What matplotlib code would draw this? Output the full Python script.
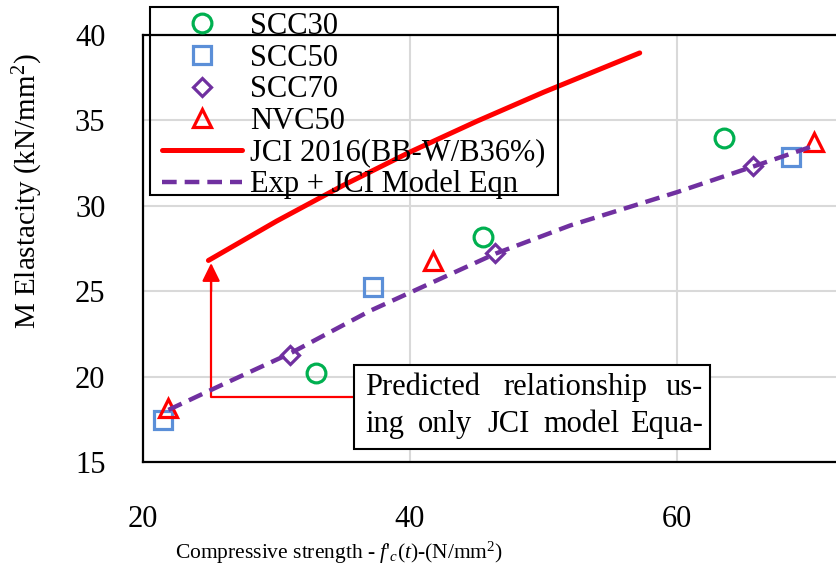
import matplotlib
matplotlib.use('Agg')
import matplotlib.pyplot as plt
from matplotlib.patches import Rectangle

# 字体：Times 风格
plt.rcParams['font.family'] = ['Liberation Serif', 'DejaVu Serif']
plt.rcParams['mathtext.fontset'] = 'custom'
plt.rcParams['mathtext.rm'] = 'Liberation Serif'
plt.rcParams['mathtext.it'] = 'Liberation Serif:italic'

# 试验数据 (f'c, E)
scc30_x = [32.97, 45.47, 63.52]
scc30_y = [20.21, 28.17, 33.97]
scc50_x = [21.5, 37.23, 68.54]
scc50_y = [17.46, 25.25, 32.86]
scc70_x = [31.0, 46.37, 65.69]
scc70_y = [21.27, 27.24, 32.33]
nvc50_x = [21.87, 41.72, 70.26]
nvc50_y = [18.16, 26.77, 33.74]

# JCI 2016 预测曲线
jci_x = [24.9, 30, 35, 40, 45, 50, 57.2]
jci_y = [26.8, 29.1, 31.2, 33.15, 34.95, 36.65, 38.95]

# 试验 + JCI 模型拟合曲线
fit_x = [21.9, 26, 31.0, 37.0, 46.4, 52, 60, 65.7, 70.2]
fit_y = [18.05, 19.55, 21.35, 23.85, 27.2, 28.85, 30.8, 32.3, 33.5]

x_ticks = [20, 40, 60]
y_ticks = [15, 20, 25, 30, 35, 40]

W, H = 836, 577


def px(x, y):
    # 像素坐标 -> figure 坐标
    return x / W, 1 - y / H


fig = plt.figure(figsize=(W / 100, H / 100), dpi=100)
ax = fig.add_axes([143 / W, 1 - 462 / H, 693 / W, 427 / H])

mk = dict(linestyle='none', markerfacecolor='none', markeredgewidth=2.3)
ax.plot(scc30_x, scc30_y, marker='o', markersize=13.5, markeredgecolor='#00B050', label='SCC30', **mk)
ax.plot(scc50_x, scc50_y, marker='s', markersize=13, markeredgecolor='#5B8FD8', label='SCC50', **mk)
ax.plot(scc70_x, scc70_y, marker='D', markersize=9.5, markeredgecolor='#7030A0', label='SCC70', **mk)
ax.plot(nvc50_x, nvc50_y, marker='^', markersize=13.5, markeredgecolor='#FF0000', label='NVC50', **mk)
ax.plot(jci_x, jci_y, color='#FF0000', lw=3.6, solid_capstyle='round', label='JCI 2016(BB-W/B36%)', zorder=4)
ax.plot(fit_x, fit_y, color='#7030A0', lw=3.2, dashes=(3.3, 1.8), label='Exp + JCI Model Eqn', zorder=4)

ax.set_xlim(20, 71.9)
ax.set_ylim(15, 40)
ax.set_xticks(x_ticks)
ax.set_yticks(y_ticks)
ax.tick_params(axis='both', length=0, labelsize=22)
ax.tick_params(axis='y', pad=27)
ax.tick_params(axis='x', pad=31)
ax.grid(True, color='#D9D9D9', lw=1.5)
ax.set_axisbelow(True)
for s in ['left', 'top', 'bottom']:
    ax.spines[s].set_linewidth(1.6)
ax.spines['right'].set_visible(False)

# 注释箭头
ax.plot([35.8, 25.1, 25.1], [18.8, 18.8, 25.5], color='#FF0000', lw=1.6, zorder=3)
ax.annotate('', xy=(25.1, 26.65), xytext=(25.1, 25.0),
            arrowprops=dict(arrowstyle='-|>,head_length=0.55,head_width=0.27', color='#FF0000',
                            lw=1.6, mutation_scale=20, shrinkA=0, shrinkB=0), zorder=3)

# 图例（透明，边框单独画）
ax.legend(loc='upper left', bbox_to_anchor=px(162, 12), bbox_transform=fig.transFigure,
          frameon=False, fontsize=22, handlelength=2.62, handletextpad=0.26,
          labelspacing=0.085, borderpad=0, borderaxespad=0)
fig.add_artist(Rectangle(px(150, 195), 408 / W, 188 / H, transform=fig.transFigure,
                         fill=False, edgecolor='black', lw=1.5))

# 文本框
box = Rectangle(px(354, 449), 356 / W, 84 / H, transform=fig.transFigure,
                facecolor='white', edgecolor='black', lw=1.5, zorder=5)
fig.add_artist(box)
words = [('Predicted', 365, 395, 'left'), ('relationship', 503, 395, 'left'), ('us-', 703, 395, 'right'),
         ('ing', 365, 432, 'left'), ('only', 418, 432, 'left'), ('JCI', 487, 432, 'left'),
         ('model', 543, 432, 'left'), ('Equa-', 703, 432, 'right'),
         ('tion.', 365, 469, 'left')]
for w, x, y, ha in words:
    t = fig.text(*px(x, y), w, fontsize=22, ha=ha, va='baseline', zorder=6)
    t.set_clip_path(box)

# 坐标轴标题
fig.text(*px(28, 191), 'M Elastacity (kN/mm$^2$)', rotation=90, ha='center', va='center', fontsize=21)
fig.text(*px(339, 553), "Compressive strength - $\\mathit{f}$'$_{c}$$\\mathit{(t)}$-(N/mm$^2$)",
         ha='center', va='center', fontsize=15.5)

fig.savefig('out.png', dpi=100)
